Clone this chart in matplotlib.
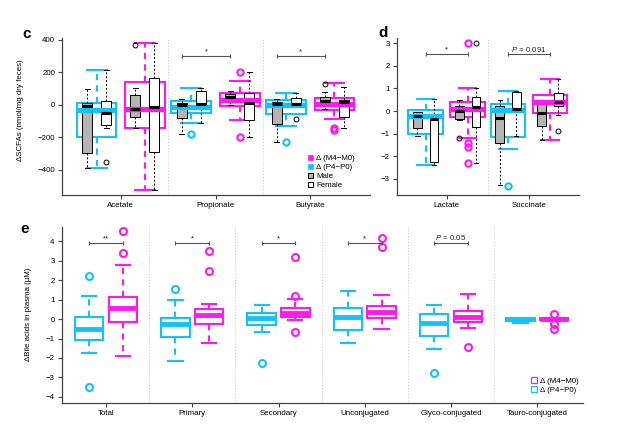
import matplotlib
matplotlib.use("Agg")
import matplotlib.pyplot as plt
from matplotlib.patches import Patch

plt.rcParams['font.family'] = ['Liberation Sans', 'DejaVu Sans']
plt.rcParams['mathtext.fontset'] = 'custom'
plt.rcParams['mathtext.it'] = 'Liberation Sans:italic'
plt.rcParams['mathtext.rm'] = 'Liberation Sans'

CYAN = '#12C2F8'
MAG = '#FF18F0'
GRAY = '#B4B4B4'

# each box: [whislo, q1, med, q3, whishi]
scfa_names = ["Acetate", "Propionate", "Butyrate"]
scfa_p = [[-388, -195, -31, 14, 215], [-110, -50, -10, 25, 107], [-129, -55, 0, 31, 72]]
scfa_p_fl = [[], [-180], [-230]]
scfa_m = [[-523, -140, -25, 140, 380], [-92, -6, 31, 72, 148], [-88, -31, 6, 41, 133]]
scfa_m_fl = [[], [201, -199], [-140, -155]]
scfa_p_male = [[-388, -297, -6, 10, 98], [-180, -78, 0, 14, 37], [-230, -117, 6, 21, 35]]
scfa_p_male_fl = [[], [], []]
scfa_p_fem = [[-140, -123, -51, 25, 215], [-109, -27, 4, 86, 107], [-12, -12, 4, 40, 72]]
scfa_p_fem_fl = [[-353], [], [-88]]
scfa_m_male = [[-140, -72, -25, 62, 103], [0, 21, 47, 68, 88], [-25, 6, 25, 51, 78]]
scfa_m_male_fl = [[369], [], [130]]
scfa_m_fem = [[-523, -287, -10, 168, 380], [-199, -92, 14, 72, 201], [-143, -76, 17, 31, 113]]
scfa_m_fem_fl = [[], [], []]
scfa_sig = ["", "*", "*"]

org_names = ["Lactate", "Succinate"]
org_p = [[-2.39, -1.03, -0.22, 0.03, 0.52], [-1.68, -1.13, 0.04, 0.31, 0.9]]
org_p_fl = [[], [-3.3]]
org_m = [[-1.2, -0.28, 0.09, 0.41, 1.0], [-1.28, -0.1, 0.41, 0.71, 1.4]]
org_m_fl = [[3.0, -1.4, -1.58, -2.29], []]
org_p_male = [[-1.1, -0.77, -0.22, -0.04, -0.04], [-3.27, -1.43, -0.3, 0.24, 0.49]]
org_p_male_fl = [[], []]
org_p_fem = [[-2.39, -2.24, -0.35, -0.32, 0.52], [-1.1, 0.04, 0.09, 0.83, 0.9]]
org_p_fem_fl = [[], []]
org_m_male = [[-0.4, -0.37, 0.01, 0.22, 0.49], [-1.28, -0.65, -0.1, 0.38, 0.38]]
org_m_male_fl = [[-1.21], []]
org_m_fem = [[-2.29, -0.69, 0.19, 0.64, 1.0], [-0.18, 0.22, 0.41, 0.78, 1.4]]
org_m_fem_fl = [[3.0], [-0.87]]
org_sig = ["*", "$P$ = 0.091"]

bile_names = ["Total", "Primary", "Secondary", "Unconjugated", "Glyco-conjugated", "Tauro-conjugated"]
bile_p = [[-1.74, -1.09, -0.52, 0.12, 1.21], [-2.18, -0.92, -0.26, 0.07, 0.98],
          [-0.66, -0.31, 0.08, 0.3, 0.72], [-1.21, -0.57, 0.09, 0.55, 1.42],
          [-1.52, -0.88, -0.19, 0.26, 0.73], [-0.22, -0.1, 0.0, 0.06, 0.06]]
bile_p_fl = [[2.23, -3.5], [1.54], [-2.25], [], [-2.76], []]
bile_m = [[-1.9, -0.14, 0.59, 1.12, 2.76], [-1.21, -0.26, 0.21, 0.5, 0.78],
          [-0.05, 0.12, 0.3, 0.55, 1.04], [-0.52, 0.03, 0.38, 0.67, 1.24],
          [-0.48, -0.17, 0.12, 0.43, 1.28], [-0.08, -0.06, 0.0, 0.06, 0.08]]
bile_m_fl = [[4.52, 3.4], [3.49, 2.45], [3.18, 1.21, -0.66], [4.15, 3.7], [-1.43], [0.26, -0.25, -0.53]]
bile_sig = ["**", "*", "*", "*", "$P$ = 0.05", ""]


def stats(rows, fliers):
    return [dict(whislo=r[0], q1=r[1], med=r[2], q3=r[3], whishi=r[4], fliers=f)
            for r, f in zip(rows, fliers)]


def boxes(ax, rows, fliers, pos, width, edge, face, lw, medlw, ls, ms):
    ax.bxp(stats(rows, fliers), positions=pos, widths=width, capwidths=width * 0.5,
           patch_artist=True, manage_ticks=False,
           boxprops=dict(facecolor=face, edgecolor=edge, linewidth=lw),
           whiskerprops=dict(color=edge, linewidth=lw, linestyle=ls),
           capprops=dict(color=edge, linewidth=lw),
           medianprops=dict(color=edge, linewidth=medlw, solid_capstyle='butt'),
           flierprops=dict(marker='o', markerfacecolor='none', markeredgecolor=edge,
                           markersize=ms, markeredgewidth=lw))


def style(ax, names, yticks, xlim, ylim):
    ax.set_xlim(*xlim)
    ax.set_ylim(*ylim)
    ax.set_yticks(yticks)
    ax.set_xticks(range(1, len(names) + 1))
    ax.set_xticklabels(names)
    for s in ['top', 'right']:
        ax.spines[s].set_visible(False)
    for s in ['left', 'bottom']:
        ax.spines[s].set_linewidth(0.9)
        ax.spines[s].set_color('#444444')
    ax.tick_params(direction='out', length=3, width=0.8, labelsize=5.7, pad=2, color='#444444')
    for i in range(1, len(names)):
        ax.axvline(i + 0.5, color='#C8C8C8', lw=0.7, ls=(0, (1, 2)), zorder=0)


def bracket(ax, x1, x2, y, label, off):
    if not label:
        return
    ax.plot([x1, x2], [y, y], color='#555555', lw=0.8, marker='|', markersize=3, markeredgewidth=0.8)
    ax.text((x1 + x2) / 2, y + off, label, ha='center', va='bottom', fontsize=5.7, color='#222222')


fig = plt.figure(figsize=(6.4, 4.42), dpi=100)
ax_c = fig.add_axes([62 / 640, 1 - 195 / 442, 308 / 640, 157 / 442])
ax_d = fig.add_axes([396.7 / 640, 1 - 195 / 442, 182.3 / 640, 157 / 442])
ax_e = fig.add_axes([61.7 / 640, 1 - 402.7 / 442, 521.6 / 640, 176 / 442])

OFF = 0.255
WIDE = 0.42
NAR = 0.105
SUB = 0.1
dash_w = (0, (3, 2.5))
dash_n = (0, (2, 2))

for ax, names, p, pfl, m, mfl, pma, pmafl, pfe, pfefl, mma, mmafl, mfe, mfefl in [
        (ax_c, scfa_names, scfa_p, scfa_p_fl, scfa_m, scfa_m_fl, scfa_p_male, scfa_p_male_fl,
         scfa_p_fem, scfa_p_fem_fl, scfa_m_male, scfa_m_male_fl, scfa_m_fem, scfa_m_fem_fl),
        (ax_d, org_names, org_p, org_p_fl, org_m, org_m_fl, org_p_male, org_p_male_fl,
         org_p_fem, org_p_fem_fl, org_m_male, org_m_male_fl, org_m_fem, org_m_fem_fl)]:
    n = len(names)
    xp = [i + 1 - OFF for i in range(n)]
    xm = [i + 1 + OFF for i in range(n)]
    boxes(ax, p, pfl, xp, WIDE, CYAN, 'none', 1.5, 3.8, dash_w, 4.5)
    boxes(ax, m, mfl, xm, WIDE, MAG, 'none', 1.5, 3.8, dash_w, 4.5)
    boxes(ax, pma, pmafl, [x - SUB for x in xp], NAR, 'black', GRAY, 0.7, 2.2, dash_n, 3.5)
    boxes(ax, pfe, pfefl, [x + SUB for x in xp], NAR, 'black', 'white', 0.7, 2.2, dash_n, 3.5)
    boxes(ax, mma, mmafl, [x - SUB for x in xm], NAR, 'black', GRAY, 0.7, 2.2, dash_n, 3.5)
    boxes(ax, mfe, mfefl, [x + SUB for x in xm], NAR, 'black', 'white', 0.7, 2.2, dash_n, 3.5)

style(ax_c, scfa_names, [-400, -200, 0, 200, 400], (0.38, 3.63), (-554, 412))
style(ax_d, org_names, [-3, -2, -1, 0, 1, 2, 3], (0.393, 2.607), (-3.71, 3.23))

for i, s in enumerate(scfa_sig):
    bracket(ax_c, i + 1 - OFF - SUB, i + 1 + OFF - SUB, 301, s, 4)
for i, s in enumerate(org_sig):
    bracket(ax_d, i + 1 - OFF, i + 1 + OFF, 2.52, s, 0.02)

ax_c.set_ylabel("ΔSCFAs (nmol/mg dry feces)", fontsize=5.7)
ax_c.yaxis.set_label_coords(-0.122, 0.54)

ax_c.legend(handles=[Patch(facecolor=MAG, edgecolor=MAG, lw=0.5),
                     Patch(facecolor=CYAN, edgecolor=CYAN, lw=0.5),
                     Patch(facecolor=GRAY, edgecolor='black', lw=0.7),
                     Patch(facecolor='white', edgecolor='black', lw=0.7)],
            labels=["Δ (M4−M0)", "Δ (P4−P0)", "Male", "Female"],
            loc='lower left', bbox_to_anchor=(0.78, 0.0), frameon=False, fontsize=5.7,
            handlelength=0.7, handleheight=0.7, handletextpad=0.4, labelspacing=0.2,
            borderpad=0.2)

# panel e
OFF_E = 0.195
W_E = 0.33
xp = [i + 1 - OFF_E for i in range(len(bile_names))]
xm = [i + 1 + OFF_E for i in range(len(bile_names))]
boxes(ax_e, bile_p, bile_p_fl, xp, W_E, CYAN, 'white', 1.5, 3.5, dash_w, 5)
boxes(ax_e, bile_m, bile_m_fl, xm, W_E, MAG, 'white', 1.5, 3.5, dash_w, 5)
style(ax_e, bile_names, [-4, -3, -2, -1, 0, 1, 2, 3, 4], (0.487, 6.533), (-4.3, 4.75))
for i, s in enumerate(bile_sig):
    bracket(ax_e, i + 1 - OFF_E, i + 1 + OFF_E, 3.92, s, 0.02)
ax_e.set_ylabel("ΔBile acids in plasma (µM)", fontsize=5.7)
ax_e.yaxis.set_label_coords(-0.056, 0.5)
ax_e.legend(handles=[Patch(facecolor='white', edgecolor=MAG, lw=0.9),
                     Patch(facecolor='white', edgecolor=CYAN, lw=0.9)],
            labels=["Δ (M4−M0)", "Δ (P4−P0)"],
            loc='lower left', bbox_to_anchor=(0.89, 0.02), frameon=False, fontsize=5.7,
            handlelength=0.7, handleheight=0.7, handletextpad=0.4, labelspacing=0.2,
            borderpad=0.2)

fig.text(22 / 640, 1 - 34 / 442, "c", fontsize=11, weight='bold', va='center')
fig.text(378 / 640, 1 - 33 / 442, "d", fontsize=11, weight='bold', va='center')
fig.text(20 / 640, 1 - 229 / 442, "e", fontsize=11, weight='bold', va='center')

fig.savefig("out.png", dpi=100)
